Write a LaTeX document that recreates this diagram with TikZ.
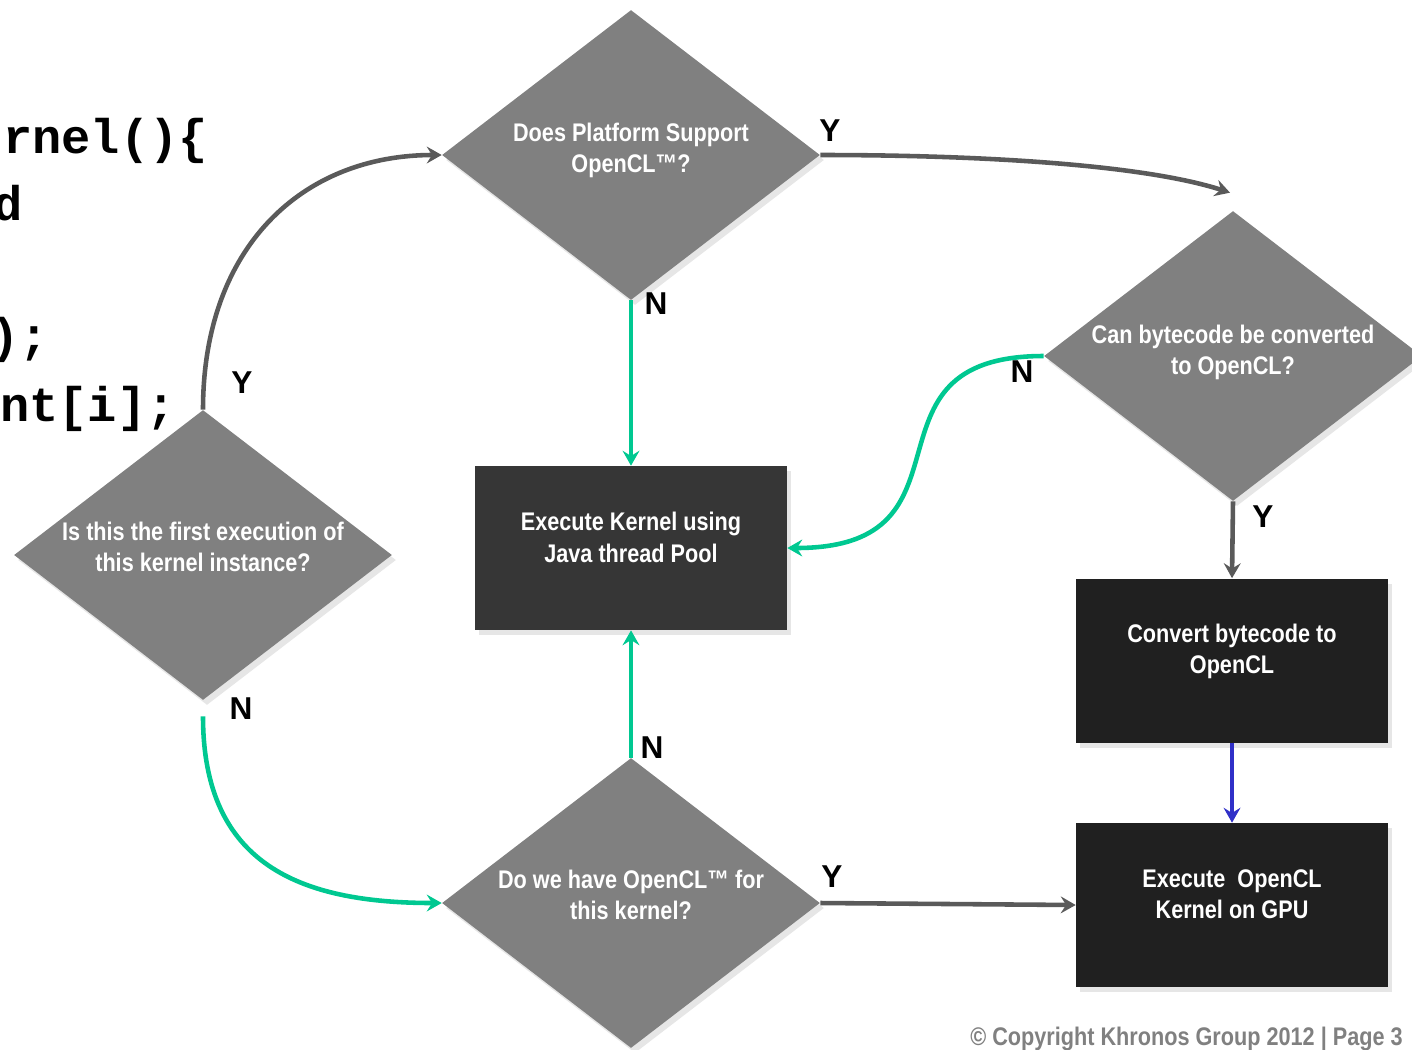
\documentclass[tikz,border=0pt]{standalone}
\usepackage{fontspec}
\setmainfont{Liberation Sans}
\newfontfamily\narrowfont[FakeStretch=0.85]{Liberation Sans}
\newfontfamily\codefont{Liberation Mono}
\usetikzlibrary{shapes.geometric,arrows.meta,shadows}

\definecolor{decgray}{RGB}{128,128,128}
\definecolor{boxgray}{RGB}{54,54,54}
\definecolor{boxdark}{RGB}{32,32,32}
\definecolor{yesline}{RGB}{90,90,90}
\definecolor{noline}{RGB}{0,200,145}
\definecolor{blueline}{RGB}{48,48,200}
\definecolor{copygray}{RGB}{128,128,128}

\tikzset{
  decision/.style={diamond, fill=decgray, shape aspect=1.3, inner sep=0pt,
    minimum width=7.56cm, minimum height=5.8cm,
    drop shadow={opacity=0.2, shadow xshift=0.08cm, shadow yshift=-0.1cm}},
  process/.style={rectangle, fill=boxdark, inner sep=0pt,
    minimum width=6.24cm, minimum height=3.28cm,
    drop shadow={opacity=0.2, shadow xshift=0.08cm, shadow yshift=-0.1cm}},
  qtext/.style={text=white, align=center, inner sep=0pt,
    font=\narrowfont\bfseries\fontsize{14.5}{17.8}\selectfont},
  yn/.style={font=\bfseries\fontsize{18}{20}\selectfont, inner sep=0pt},
  code/.style={anchor=base west, inner sep=0pt,
    font=\codefont\bfseries\fontsize{27.7}{30}\selectfont},
  conn/.style={line width=2.6pt, -{Stealth[length=8.5pt,width=9.6pt,inset=3pt]}},
  yesarrow/.style={conn, draw=yesline},
  noarrow/.style={conn, draw=noline},
  bluearrow/.style={conn, draw=blueline}
}

\begin{document}
\begin{tikzpicture}[x=0.02cm, y=-0.02cm]
  \useasboundingbox (0,0) rectangle (1412,1049);

  % code behind the chart
  \node[code] (c1) at (3,153) {rnel()\{};
  \node[code] (c2) at (-7,220) {d};
  \node[code] (c3) at (-10,352) {);};
  \node[code] (c4) at (0,421) {nt[i];};

  % decisions
  \node[decision] (plat) at (631,155) {};
  \node[decision] (canconv) at (1233,356) {};
  \node[decision] (first) at (203,555) {};
  \node[decision] (whave) at (631,903) {};

  % actions
  \node[process, fill=boxgray] (ejava) at (631,548) {};
  \node[process] (convert) at (1232,660.5) {};
  \node[process] (egpu) at (1232,905) {};

  \node[qtext] (plat-txt) at ([yshift=2.5pt]plat.center) {Does Platform Support\\OpenCL™?};
  \node[qtext] (canconv-txt) at ([yshift=2pt]canconv.center) {Can bytecode be converted\\to OpenCL?};
  \node[qtext] (first-txt) at ([yshift=4.8pt]first.center) {Is this the first execution of\\this kernel instance?};
  \node[qtext] (whave-txt) at ([yshift=4.8pt]whave.center) {Do we have OpenCL™ for\\this kernel?};
  \node[qtext] (ejava-txt) at ([yshift=6pt]ejava.center) {Execute Kernel using\\Java thread Pool};
  \node[qtext] (convert-txt) at ([yshift=5pt]convert.center) {Convert bytecode to\\OpenCL};
  \node[qtext] (egpu-txt) at ([yshift=6pt]egpu.center) {Execute\ \ OpenCL\\Kernel on GPU};

  % connectors
  \draw[yesarrow] (first.north) .. controls +(0,-162) and +(-140,0) .. (plat.west);
  \draw[yesarrow] (plat.east) .. controls +(180,0) and +(-80,-26) .. ([shift={(-3,-18)}]canconv.north);
  \draw[noarrow] (plat.south) -- (ejava.north);
  \draw[noarrow] (canconv.west) .. controls +(-195,0) and +(200,0) .. (ejava.east);
  \draw[yesarrow] (canconv.south) -- (convert.north);
  \draw[bluearrow] (convert.south) -- (egpu.north);
  \draw[noarrow] ([shift={(0,16)}]first.south) .. controls +(0,148) and +(-142,0) .. (whave.west);
  \draw[noarrow] (whave.north) -- (ejava.south);
  \draw[yesarrow] (whave.east) -- (egpu.west);

  % branch labels
  \node[yn] (first-y) at (242,383) {Y};
  \node[yn] (first-n) at (241,709) {N};
  \node[yn] (plat-y) at (830,131) {Y};
  \node[yn] (plat-n) at (656,304) {N};
  \node[yn] (canconv-n) at (1022,372) {N};
  \node[yn] (canconv-y) at (1263,517) {Y};
  \node[yn] (whave-n) at (652,748) {N};
  \node[yn] (whave-y) at (832,877) {Y};

  \node[anchor=base east, inner sep=0pt, text=copygray,
    font=\narrowfont\bfseries\fontsize{14.5}{17}\selectfont] (copy) at (1403,1045)
    {© Copyright Khronos Group 2012 | Page 3};
\end{tikzpicture}
\end{document}
